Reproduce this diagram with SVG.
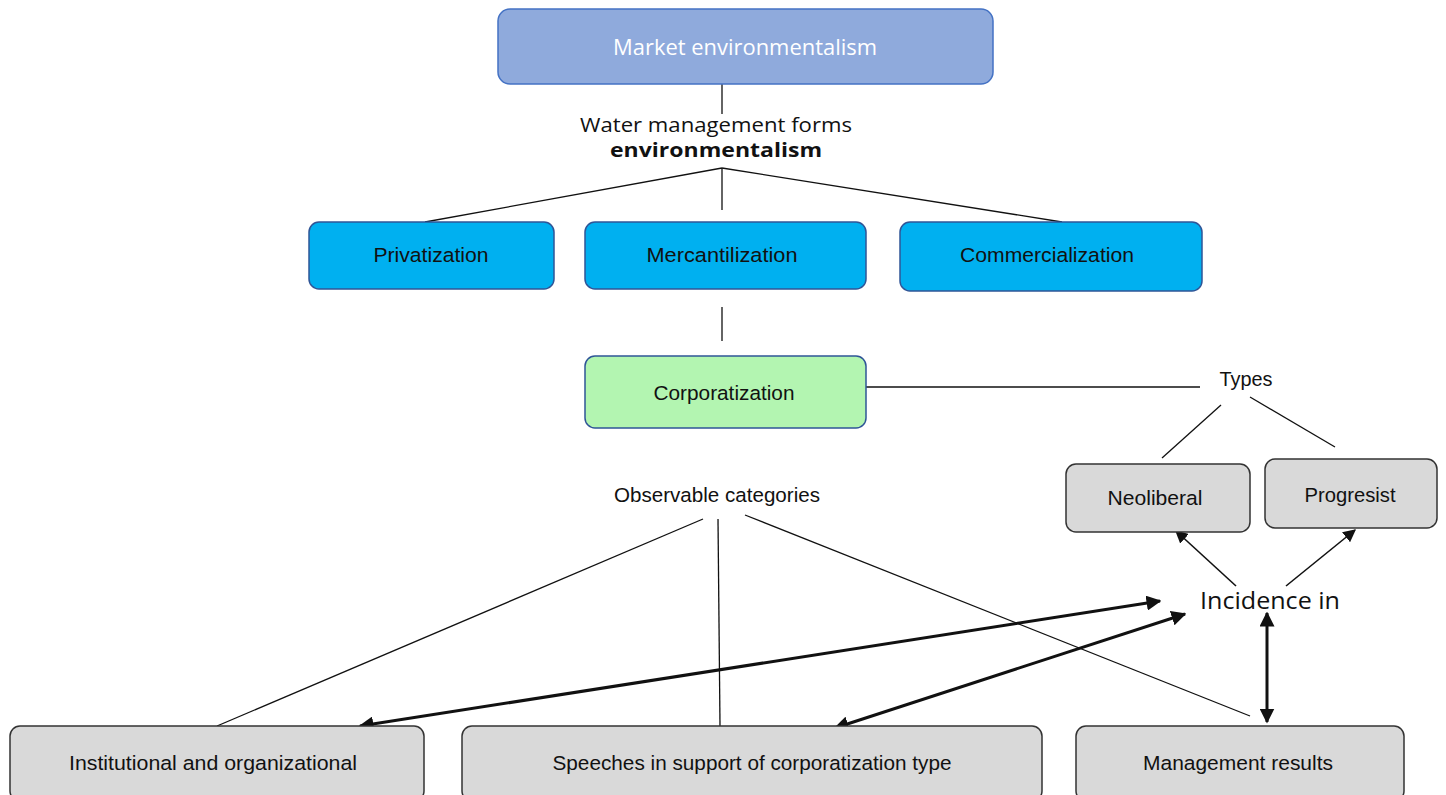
<svg xmlns="http://www.w3.org/2000/svg" width="1446" height="795" viewBox="0 0 1446 795">
<style>
.box{stroke-width:1.5}
.blue{fill:#00B0F0;stroke:#2F5597}
.gray{fill:#D9D9D9;stroke:#333}
.t{font-family:"Liberation Sans",Arial,sans-serif;font-size:20.5px;fill:#111;text-anchor:middle;dominant-baseline:central}
.o{font-family:"Open Sans","DejaVu Sans",sans-serif;text-anchor:middle;dominant-baseline:central;fill:#111}
.ln{stroke:#111;stroke-width:1.3;fill:none}
.th{stroke:#111;stroke-width:3;fill:none}
.md{stroke:#111;stroke-width:1.6;fill:none}
</style>
<defs>
<marker id="ah" viewBox="0 0 10 10" refX="9" refY="5" markerWidth="5" markerHeight="5" orient="auto-start-reverse" markerUnits="strokeWidth"><path d="M0,0 L10,5 L0,10 z" fill="#111"/></marker>
<marker id="ahs" viewBox="0 0 10 10" refX="9" refY="5" markerWidth="8" markerHeight="8" orient="auto-start-reverse" markerUnits="strokeWidth"><path d="M0,0 L10,5 L0,10 z" fill="#111"/></marker>
</defs>
<rect width="1446" height="795" fill="#fff"/>
<g id="connectors">
<line class="ln" x1="722" y1="84" x2="722" y2="114"/>
<line class="ln" x1="722" y1="168" x2="425" y2="222"/>
<line class="ln" x1="722" y1="168" x2="722" y2="210"/>
<line class="ln" x1="722" y1="168" x2="1062" y2="222"/>
<line class="ln" x1="722" y1="307" x2="722" y2="341"/>
<line class="ln" x1="866" y1="387" x2="1200" y2="387"/>
<line class="ln" x1="1221" y1="405" x2="1162" y2="458"/>
<line class="ln" x1="1250" y1="397" x2="1335" y2="447"/>
<line class="ln" x1="703" y1="519" x2="217" y2="726"/>
<line class="ln" x1="718" y1="519" x2="720" y2="726"/>
<line class="ln" x1="745" y1="515" x2="1250" y2="716"/>
<line class="md" x1="1236" y1="586" x2="1176" y2="531" marker-end="url(#ahs)"/>
<line class="md" x1="1286" y1="586" x2="1355" y2="530" marker-end="url(#ahs)"/>
<line class="th" x1="1267" y1="613" x2="1267" y2="722" marker-start="url(#ah)" marker-end="url(#ah)"/>
<line class="th" x1="1160" y1="601" x2="360" y2="726" marker-start="url(#ah)" marker-end="url(#ah)"/>
<line class="th" x1="1185" y1="614" x2="835" y2="728" marker-start="url(#ah)" marker-end="url(#ah)"/>
</g>
<g id="market">
<rect class="box" x="498" y="9" width="495" height="75" rx="12" fill="#8FAADC" stroke="#4472C4"/>
<text class="o" x="745" y="47" font-size="21" style="fill:#fff" textLength="264" lengthAdjust="spacingAndGlyphs">Market environmentalism</text>
</g>
<g id="water-label">
<text class="o" x="716" y="124" font-size="20" textLength="272" lengthAdjust="spacingAndGlyphs">Water management forms</text>
<text class="o" x="716" y="149" font-size="20" font-weight="bold" textLength="212" lengthAdjust="spacingAndGlyphs">environmentalism</text>
</g>
<g id="privatization">
<rect class="box blue" x="309" y="222" width="245" height="67" rx="10"/>
<text class="t" x="431" y="254" textLength="115" lengthAdjust="spacingAndGlyphs">Privatization</text>
</g>
<g id="mercantilization">
<rect class="box blue" x="585" y="222" width="281" height="67" rx="10"/>
<text class="t" x="722" y="254" textLength="151" lengthAdjust="spacingAndGlyphs">Mercantilization</text>
</g>
<g id="commercialization">
<rect class="box blue" x="900" y="222" width="302" height="69" rx="10"/>
<text class="t" x="1047" y="254" textLength="174" lengthAdjust="spacingAndGlyphs">Commercialization</text>
</g>
<g id="corporatization">
<rect class="box" x="585" y="356" width="281" height="72" rx="10" fill="#B3F5B1" stroke="#2F5597"/>
<text class="t" x="724" y="392" textLength="141" lengthAdjust="spacingAndGlyphs">Corporatization</text>
</g>
<g id="types-label">
<text class="t" x="1246" y="378" textLength="53" lengthAdjust="spacingAndGlyphs">Types</text>
</g>
<g id="neoliberal">
<rect class="box gray" x="1066" y="464" width="184" height="68" rx="10"/>
<text class="t" x="1155" y="497" textLength="95" lengthAdjust="spacingAndGlyphs">Neoliberal</text>
</g>
<g id="progresist">
<rect class="box gray" x="1265" y="459" width="172" height="69" rx="10"/>
<text class="t" x="1350" y="494" textLength="91" lengthAdjust="spacingAndGlyphs">Progresist</text>
</g>
<g id="observable-label">
<text class="t" x="717" y="494" textLength="206" lengthAdjust="spacingAndGlyphs">Observable categories</text>
</g>
<g id="incidence-label">
<text class="o" x="1270" y="599" font-size="24" textLength="140" lengthAdjust="spacingAndGlyphs">Incidence in</text>
</g>
<g id="institutional">
<rect class="box gray" x="10" y="726" width="414" height="75" rx="10"/>
<text class="t" x="213" y="762" textLength="288" lengthAdjust="spacingAndGlyphs">Institutional and organizational</text>
</g>
<g id="speeches">
<rect class="box gray" x="462" y="726" width="580" height="75" rx="10"/>
<text class="t" x="752" y="762" textLength="399" lengthAdjust="spacingAndGlyphs">Speeches in support of corporatization type</text>
</g>
<g id="management">
<rect class="box gray" x="1076" y="726" width="328" height="75" rx="10"/>
<text class="t" x="1238" y="762" textLength="190" lengthAdjust="spacingAndGlyphs">Management results</text>
</g>
</svg>
